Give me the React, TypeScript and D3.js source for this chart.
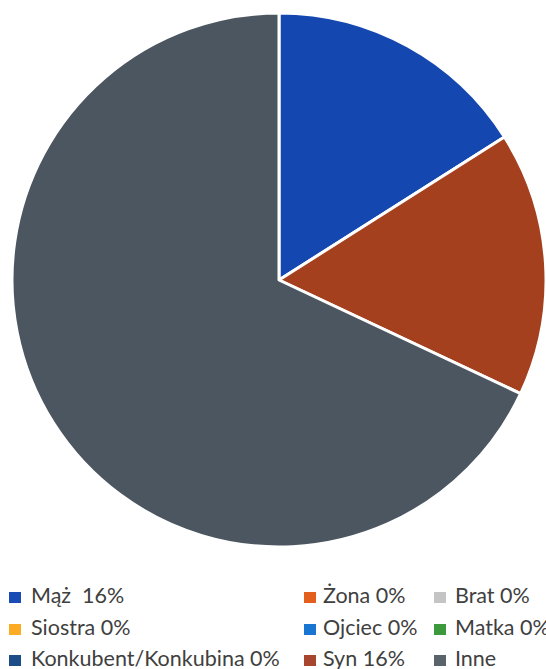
import React from "react";
import * as d3 from "d3";

const categories = ["Mąż", "Żona", "Brat", "Siostra", "Ojciec", "Matka", "Konkubent/Konkubina", "Syn", "Inne"];
const values = [16, 0, 0, 0, 0, 0, 0, 16, 68];
const legendLabels = ["Mąż  16%", "Żona 0%", "Brat 0%", "Siostra 0%", "Ojciec 0%", "Matka 0%", "Konkubent/Konkubina 0%", "Syn 16%", "Inne"];
const sliceColors = ["#1447b0", "#e35f1e", "#bfbfbf", "#fbac24", "#1876d2", "#3c9a3c", "#1c4d86", "#a5401f", "#4b5660"];
const legendColors = ["#1a4cb5", "#e35f1e", "#c4c4c4", "#fbac24", "#1876d2", "#3c9a3c", "#1c4d86", "#a8452f", "#59636a"];

const W = 546;
const H = 669;

export default function App() {
  const cx = 279;
  const cy = 280;
  const r = 267;
  const pie = d3.pie<number>().value((d) => d).sort(null);
  const arcs = pie(values);
  const arc = d3.arc<d3.PieArcDatum<number>>().innerRadius(0).outerRadius(r);

  const colX = [9, 304, 434];
  const textX = [31, 323, 455];
  const rowY = [603, 635, 666];

  return (
    <svg width={W} height={H} style={{ position: "absolute", left: 0, top: 0, background: "#fff" }}>
      <g transform={`translate(${cx},${cy})`}>
        {arcs.map((a, i) =>
          a.endAngle - a.startAngle > 0 ? (
            <path key={i} d={arc(a) || ""} fill={sliceColors[i]} stroke="#fff" strokeWidth={3} strokeLinejoin="round" />
          ) : null
        )}
      </g>
      <g fontFamily="Lato, sans-serif" fontSize={21.5} fill="#404040">
        {categories.map((c, i) => {
          const row = Math.floor(i / 3);
          const col = i % 3;
          return (
            <g key={c}>
              <rect x={colX[col]} y={rowY[row] - 11} width={12} height={11} fill={legendColors[i]} />
              <text x={textX[col]} y={rowY[row]} xmlSpace="preserve">
                {legendLabels[i]}
              </text>
            </g>
          );
        })}
      </g>
    </svg>
  );
}
